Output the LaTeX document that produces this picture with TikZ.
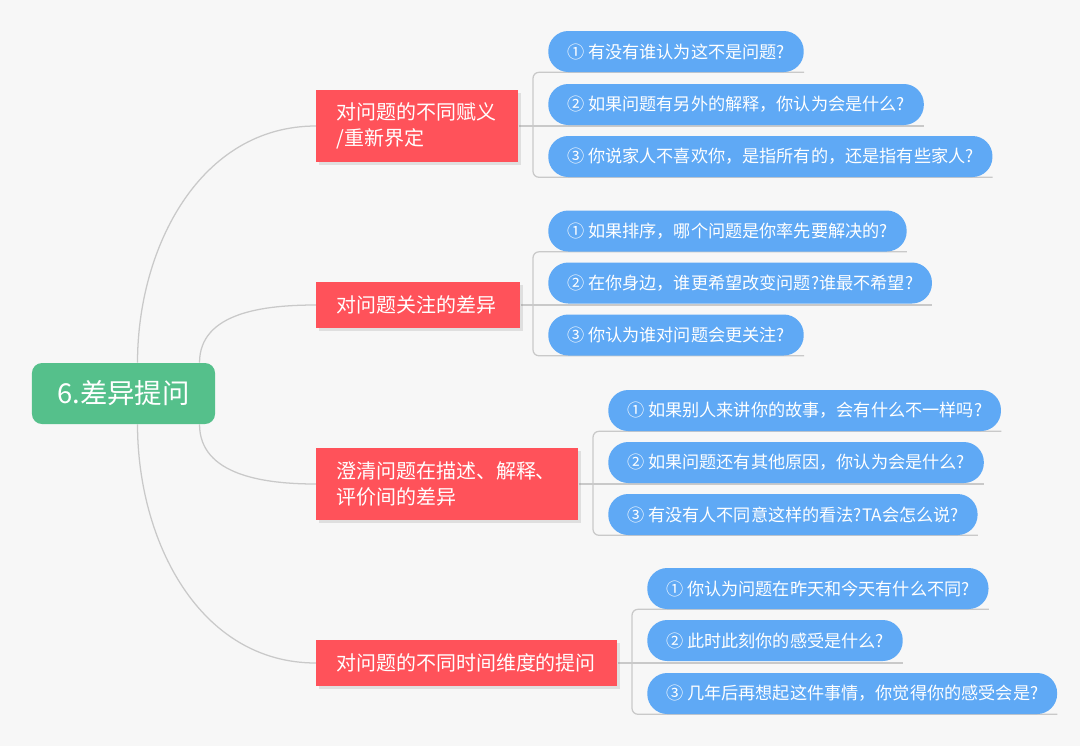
\documentclass[tikz,border=0pt]{standalone}
\usepackage{fontspec}
\newfontfamily\cjk{Noto Sans CJK SC}
\usetikzlibrary{positioning,backgrounds,shadows}
\definecolor{rootgreen}{HTML}{55C08B}
\definecolor{topicred}{HTML}{FF525A}
\definecolor{leafblue}{HTML}{5FA9F5}
\definecolor{linegray}{HTML}{C9C9C9}
\definecolor{canvas}{HTML}{F7F7F7}

\begin{document}
\begin{tikzpicture}[
    x=0.025cm, y=-0.025cm,
    rootbox/.style={rectangle, fill=rootgreen, text=white, rounded corners=0.25cm, minimum width=4.575cm, minimum height=1.525cm, font=\cjk\fontsize{19.5}{23}\selectfont},
    topicbox/.style={rectangle, fill=topicred, text=white, anchor=west, inner xsep=0.5cm, align=left, font=\cjk\fontsize{14.2}{18.5}\selectfont, drop shadow={shadow xshift=0.07cm, shadow yshift=-0.07cm, opacity=0.2}},
    askbox/.style={rectangle, fill=leafblue, text=white, rounded corners=0.5cm, anchor=west, inner xsep=0.47cm, minimum height=1.025cm, font=\cjk\fontsize{12.2}{15}\selectfont},
    branchline/.style={draw=linegray, line width=0.9pt},
]
\useasboundingbox (0,0) rectangle (1080,746);

\node[rootbox] (root) at (123.5,393.5) {6.差异提问};

\node[topicbox, text width=4.05cm, minimum height=1.8cm] (t1) at (316,126) {对问题的不同赋义\\/重新界定};
\node[topicbox, text width=4.1cm, minimum height=1.15cm] (t2) at (316,305) {对问题关注的差异};
\node[topicbox, text width=5.55cm, minimum height=1.8cm] (t3) at (316,484) {澄清问题在描述、解释、\\评价间的差异};
\node[topicbox, text width=6.525cm, minimum height=1.15cm] (t4) at (316,663) {对问题的不同时间维度的提问};

\node[askbox] (a1) at (548,51.5) {① 有没有谁认为这不是问题?};
\node[askbox] (a2) at (548,104.5) {② 如果问题有另外的解释，你认为会是什么?};
\node[askbox] (a3) at (548,156.5) {③ 你说家人不喜欢你，是指所有的，还是指有些家人?};

\node[askbox] (b1) at (548,231) {① 如果排序，哪个问题是你率先要解决的?};
\node[askbox] (b2) at (548,283) {② 在你身边，谁更希望改变问题?谁最不希望?};
\node[askbox] (b3) at (548,335) {③ 你认为谁对问题会更关注?};

\node[askbox] (c1) at (608,410.5) {① 如果别人来讲你的故事，会有什么不一样吗?};
\node[askbox] (c2) at (608,462.5) {② 如果问题还有其他原因，你认为会是什么?};
\node[askbox] (c3) at (608,514.5) {③ 有没有人不同意这样的看法?TA会怎么说?};

\node[askbox] (d1) at (647,588.5) {① 你认为问题在昨天和今天有什么不同?};
\node[askbox] (d2) at (647,640.5) {② 此时此刻你的感受是什么?};
\node[askbox] (d3) at (647,693.5) {③ 几年后再想起这件事情，你觉得你的感受会是?};

\coordinate (bar1) at (533,0);
\coordinate (bar2) at (533,0);
\coordinate (bar3) at (593,0);
\coordinate (bar4) at (632,0);

\begin{scope}[on background layer]
\fill[canvas] (0,0) rectangle (1080,746);
\draw[branchline] ([xshift=0.35cm]root.north) to[out=90, in=180] (t1.west);
\draw[branchline] ([xshift=1.9cm]root.north) to[out=90, in=180] (t2.west);
\draw[branchline] ([xshift=1.9cm]root.south) to[out=-90, in=180] (t3.west);
\draw[branchline] ([xshift=0.35cm]root.south) to[out=-90, in=180] (t4.west);

\draw[branchline, rounded corners=0.15cm] (a1.south east) -- (a1.south -| bar1) -- (a3.south -| bar1) -- (a3.south east);
\draw[branchline] (t1.east) -- (t1.east -| a2.east);
\draw[branchline, rounded corners=0.15cm] (b1.south east) -- (b1.south -| bar2) -- (b3.south -| bar2) -- (b3.south east);
\draw[branchline] (t2.east) -- (t2.east -| b2.east);
\draw[branchline, rounded corners=0.15cm] (c1.south east) -- (c1.south -| bar3) -- (c3.south -| bar3) -- (c3.south east);
\draw[branchline] (t3.east) -- (t3.east -| c2.east);
\draw[branchline, rounded corners=0.15cm] (d1.south east) -- (d1.south -| bar4) -- (d3.south -| bar4) -- (d3.south east);
\draw[branchline] (t4.east) -- (t4.east -| d2.east);
\end{scope}
\end{tikzpicture}
\end{document}
